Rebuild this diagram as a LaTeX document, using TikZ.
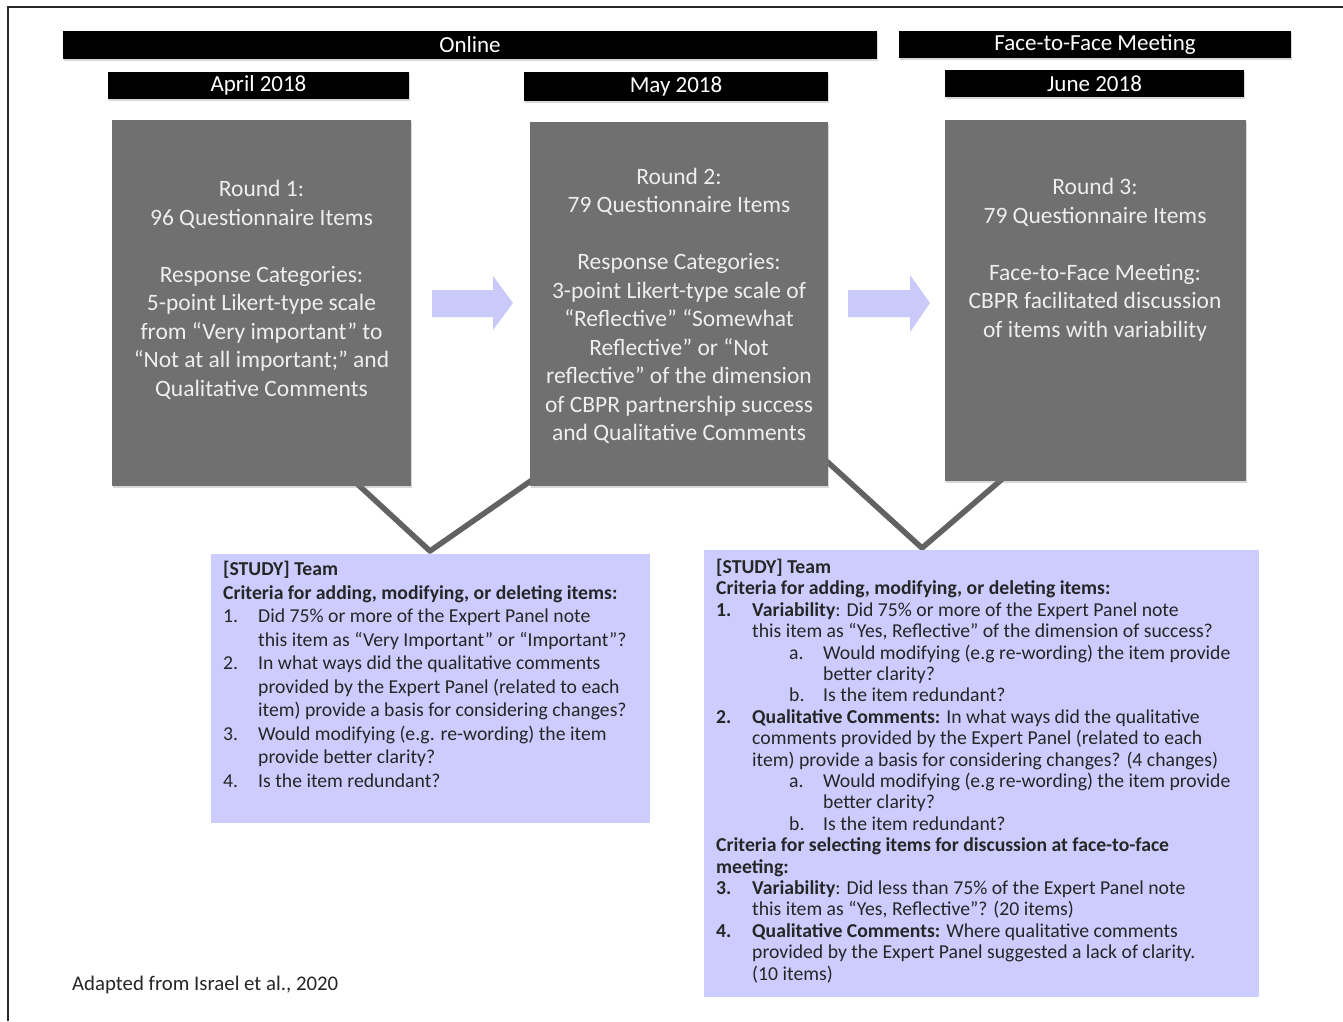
\documentclass[tikz,border=0pt]{standalone}
\usepackage{fontspec}
\setmainfont{Carlito}
\usetikzlibrary{shadows}
\definecolor{boxgray}{RGB}{112,112,112}
\definecolor{lav}{RGB}{204,204,255}
\definecolor{arrowlav}{RGB}{202,202,250}
\definecolor{txtgray}{RGB}{238,238,238}
\definecolor{linegray}{RGB}{98,98,98}
\definecolor{framecol}{RGB}{40,40,40}
\begin{document}
\begin{tikzpicture}[x=1pt,y=-1pt,
  barbox/.style={fill=black, draw=none, inner sep=0pt, text=white,
    font=\fontsize{23}{27}\selectfont,
    drop shadow={shadow xshift=1pt, shadow yshift=-1.5pt, opacity=0.3}},
  roundbox/.style={fill=boxgray, draw=none, inner sep=0pt,
    drop shadow={shadow xshift=1pt, shadow yshift=-2pt, opacity=0.3}},
  roundtext/.style={text=txtgray, align=center, inner sep=0pt,
    font=\fontsize{23.5}{28.5}\selectfont},
  lavbox/.style={fill=lav, draw=none, inner sep=0pt},
  lavtextA/.style={align=left, inner sep=0pt, anchor=north west, text=black!85,
    font=\fontsize{19.7}{23.5}\selectfont},
  lavtextB/.style={align=left, inner sep=0pt, anchor=north west, text=black!85,
    font=\fontsize{19.7}{21.4}\selectfont},
  vline/.style={draw=linegray, line width=5.5pt, line join=round},
  blockarrow/.style={fill=arrowlav, draw=none}
]
\useasboundingbox (0,0) rectangle (1343,1021);
\fill[white] (0,0) rectangle (1343,1021);
% frame
\draw[framecol, line width=1.8pt] (8,1021) -- (8,7) -- (1343,7);

% top bars
\node[barbox, minimum width=814pt, minimum height=28pt] (online) at (470,45) {Online};
\node[barbox, minimum width=392pt, minimum height=27pt] (ftf) at (1095,44.5) {Face-to-Face Meeting};
\node[barbox, minimum width=301pt, minimum height=27pt] (apr) at (258.5,85.5) {April 2018};
\node[barbox, minimum width=304pt, minimum height=29pt] (may) at (676,86.5) {May 2018};
\node[barbox, minimum width=299pt, minimum height=27pt] (jun) at (1094.5,83.5) {June 2018};

% V connectors (behind boxes)
\coordinate (v1a) at (340,468);
\coordinate (v1tip) at (430,551);
\coordinate (v1b) at (545,471);
\coordinate (v2a) at (810,446);
\coordinate (v2tip) at (922,548);
\coordinate (v2b) at (1015,468);
\draw[vline] (v1a) -- (v1tip) -- (v1b);
\draw[vline] (v2a) -- (v2tip) -- (v2b);

% round boxes
\node[roundbox, minimum width=299pt, minimum height=366pt] (b1) at (261.5,303) {};
\node[roundbox, minimum width=298pt, minimum height=364pt] (b2) at (679,304) {};
\node[roundbox, minimum width=301pt, minimum height=361pt] (b3) at (1095.5,300.5) {};

\node[roundtext] (b1t) at (261.5,290) {Round 1:\\96 Questionnaire Items\\[28.5pt]Response Categories:\\5-point Likert-type scale\\from “Very important” to\\“Not at all important;” and\\Qualitative Comments};
\node[roundtext] (b2t) at (679,306) {Round 2:\\79 Questionnaire Items\\[28.5pt]Response Categories:\\3-point Likert-type scale of\\“Reflective” “Somewhat\\Reflective” or “Not\\reflective” of the dimension\\of CBPR partnership success\\and Qualitative Comments};
\node[roundtext] (b3t) at (1095,259.5) {Round 3:\\79 Questionnaire Items\\[28.5pt]Face-to-Face Meeting:\\CBPR facilitated discussion\\of items with variability};

% block arrows
\fill[blockarrow] (432,290) -- (493,290) -- (493,276) -- (513,303) -- (493,330) -- (493,317) -- (432,317) -- cycle;
\fill[blockarrow] (848,290) -- (910,290) -- (910,275) -- (930,303) -- (910,332) -- (910,317) -- (848,317) -- cycle;

% lavender boxes
\node[lavbox, minimum width=439pt, minimum height=269pt] (l1) at (430.5,688.5) {};
\node[lavbox, minimum width=555pt, minimum height=447pt] (l2) at (981.5,773.5) {};

\node[lavtextA] (l1t) at (223,561) {\textbf{[STUDY] Team}\\
\textbf{Criteria for adding, modifying, or deleting items:}\\
\makebox[35pt][l]{1.}Did 75\% or more of the Expert Panel note\\
\hspace*{35pt}this item as “Very Important” or “Important”?\\
\makebox[35pt][l]{2.}In what ways did the qualitative comments\\
\hspace*{35pt}provided by the Expert Panel (related to each\\
\hspace*{35pt}item) provide a basis for considering changes?\\
\makebox[35pt][l]{3.}Would modifying (e.g. re-wording) the item\\
\hspace*{35pt}provide better clarity?\\
\makebox[35pt][l]{4.}Is the item redundant?};

\node[lavtextB] (l2t) at (716,559) {\textbf{[STUDY] Team}\\
\textbf{Criteria for adding, modifying, or deleting items:}\\
\makebox[36pt][l]{\textbf{1.}}\textbf{Variability}: Did 75\% or more of the Expert Panel note\\
\hspace*{36pt}this item as “Yes, Reflective” of the dimension of success?\\
\hspace*{73pt}\makebox[34pt][l]{a.}Would modifying (e.g re-wording) the item provide\\
\hspace*{107pt}better clarity?\\
\hspace*{73pt}\makebox[34pt][l]{b.}Is the item redundant?\\
\makebox[36pt][l]{\textbf{2.}}\textbf{Qualitative Comments:} In what ways did the qualitative\\
\hspace*{36pt}comments provided by the Expert Panel (related to each\\
\hspace*{36pt}item) provide a basis for considering changes? (4 changes)\\
\hspace*{73pt}\makebox[34pt][l]{a.}Would modifying (e.g re-wording) the item provide\\
\hspace*{107pt}better clarity?\\
\hspace*{73pt}\makebox[34pt][l]{b.}Is the item redundant?\\
\textbf{Criteria for selecting items for discussion at face-to-face}\\
\textbf{meeting:}\\
\makebox[36pt][l]{\textbf{3.}}\textbf{Variability}: Did less than 75\% of the Expert Panel note\\
\hspace*{36pt}this item as “Yes, Reflective”? (20 items)\\
\makebox[36pt][l]{\textbf{4.}}\textbf{Qualitative Comments:} Where qualitative comments\\
\hspace*{36pt}provided by the Expert Panel suggested a lack of clarity.\\
\hspace*{36pt}(10 items)};

% source note
\node[inner sep=0pt, anchor=west, font=\fontsize{20.8}{24}\selectfont, text=black!85] (src) at (72,985) {Adapted from Israel et al., 2020};
\end{tikzpicture}
\end{document}
